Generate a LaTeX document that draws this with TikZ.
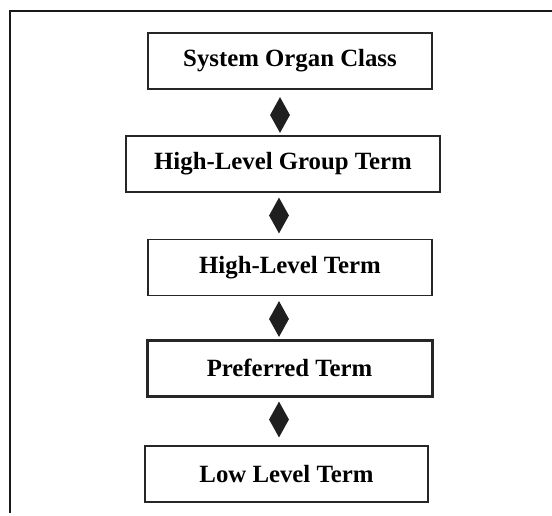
\documentclass[tikz,border=0pt]{standalone}
\usepackage{fontspec}
\setmainfont{Liberation Serif}
\usetikzlibrary{shapes.geometric}
\begin{document}
\begin{tikzpicture}[x=1pt,y=-1pt,
  termbox/.style={draw=black!85, line width=1.9pt, minimum height=56pt,
    font=\bfseries\fontsize{24.8}{28}\selectfont, inner sep=0pt},
  link/.style={diamond, fill=black!88, draw=none, minimum width=20pt,
    minimum height=36pt, inner sep=0pt}]
  \useasboundingbox (0,0) rectangle (552,515);
  % outer frame: top and left edges only
  \draw[line width=1.5pt, black!90] (552,11) -- (10,11) -- (10,513);
  % hierarchy levels
  \node[termbox, minimum width=284pt] (soc)  at (290,61)  {System Organ Class};
  \node[termbox, minimum width=314pt] (hlgt) at (283,164) {High-Level Group Term};
  \node[termbox, minimum width=284pt] (hlt)  at (290,267.5) {High-Level Term};
  \node[termbox, minimum width=285pt, line width=3pt] (pt) at (289.5,368) {Preferred Term};
  \node[termbox, minimum width=283pt] (llt)  at (286.5,474) {Low Level Term};
  % links between levels
  \node[link] (d1) at (280,115) {};
  \node[link] (d2) at (279,215.5) {};
  \node[link] (d3) at (279,319) {};
  \node[link] (d4) at (279,419.5) {};
\end{tikzpicture}
\end{document}
